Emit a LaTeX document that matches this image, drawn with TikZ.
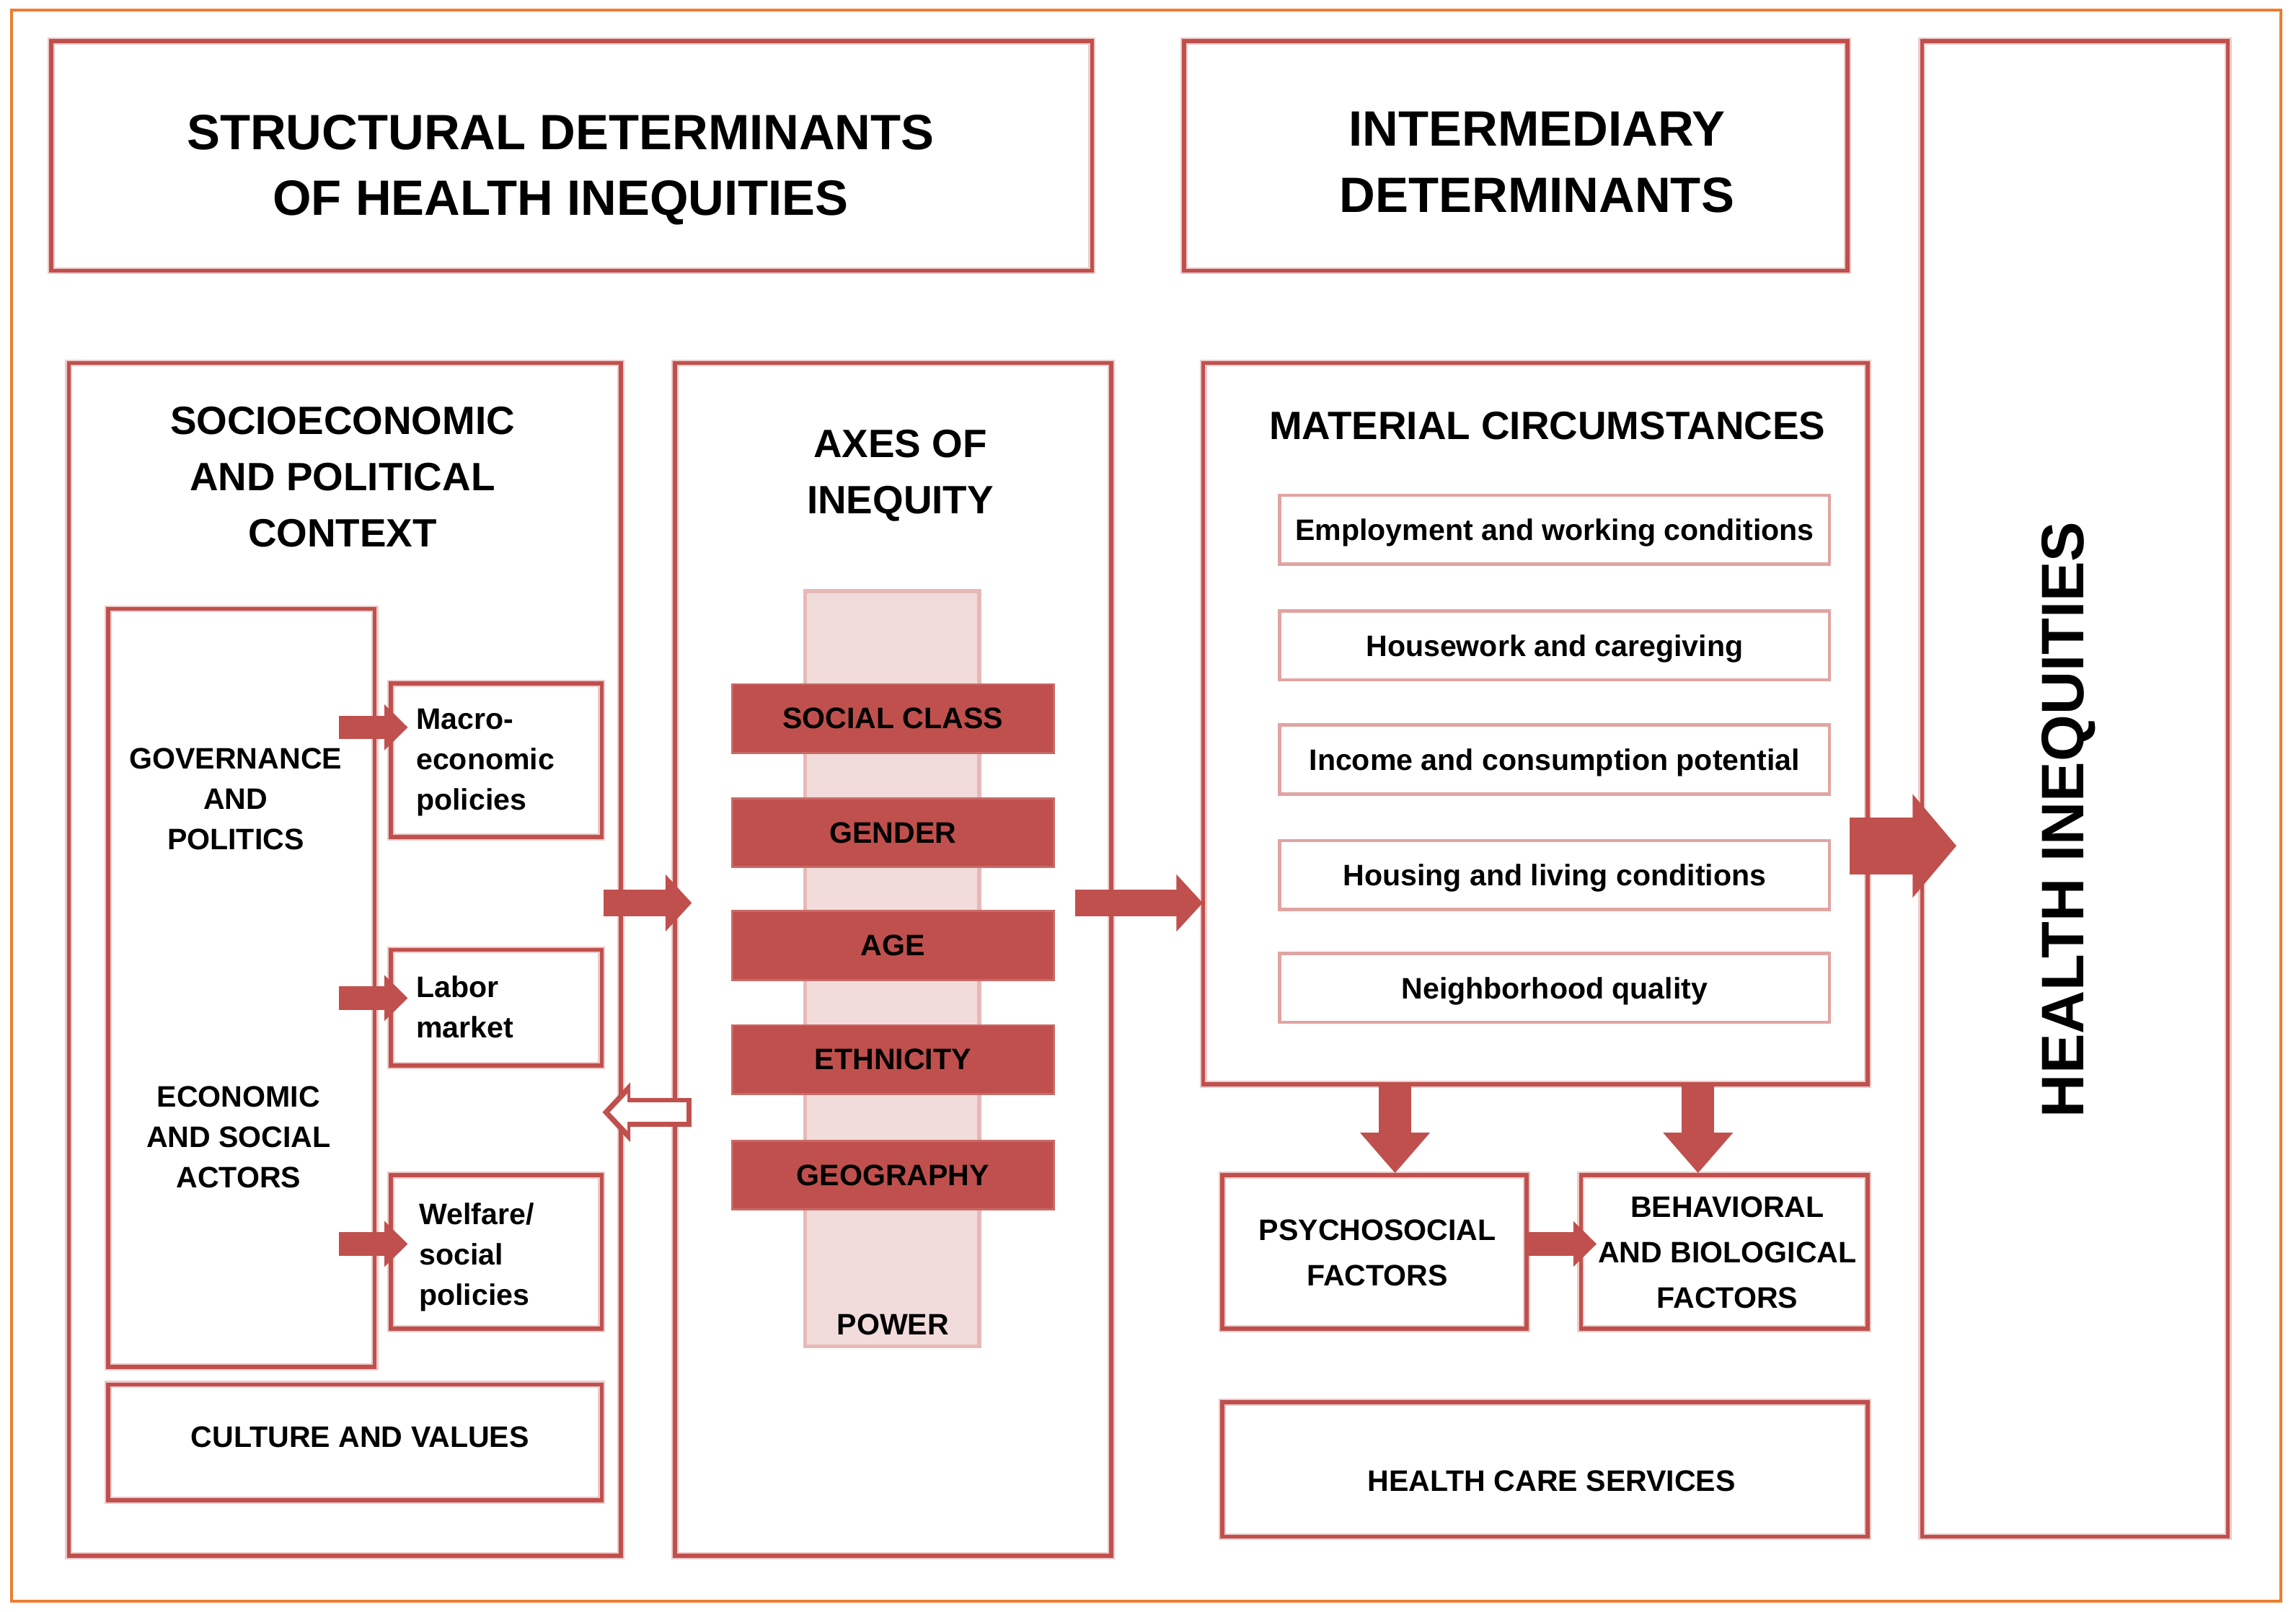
\documentclass[tikz,border=0pt]{standalone}
\usepackage{fontspec}
\setmainfont{Liberation Sans}
\usetikzlibrary{positioning}
\usetikzlibrary{fit}
\usetikzlibrary{arrows.meta}

\definecolor{boxred}{RGB}{192,80,77}
\definecolor{itemred}{RGB}{224,164,162}
\definecolor{powerpink}{RGB}{242,220,219}
\definecolor{powerline}{RGB}{230,185,184}
\definecolor{pageorange}{RGB}{237,125,49}

\tikzset{
    frame/.style={draw=boxred, line width=1.6pt, inner sep=0pt, preaction={draw=boxred!30, line width=2.8pt}},
    headtxt/.style={font=\bfseries\fontsize{19.6}{26}\selectfont, align=center},
    sectxt/.style={font=\bfseries\fontsize{15.6}{22.2}\selectfont, align=center},
    smalltxt/.style={font=\bfseries\fontsize{11.7}{15.9}\selectfont, align=center},
    bar/.style={smalltxt, fill=boxred, draw=boxred!85, line width=0.8pt, minimum width=127pt, minimum height=27.2pt, inner sep=0pt},
    item/.style={smalltxt, draw=itemred, line width=1.3pt, fill=white, minimum width=217pt, minimum height=27.2pt, inner sep=0pt},
    power/.style={fill=powerpink, draw=powerline, line width=1.5pt, inner sep=0pt},
    flow/.style={draw=boxred, line width=10.4pt, -{Triangle[width=22pt,length=10.4pt]}},
    smallflow/.style={draw=boxred, line width=9.2pt, -{Triangle[width=17.5pt,length=9.2pt]}},
    downflow/.style={draw=boxred, line width=12.7pt, -{Triangle[width=26.6pt,length=16pt]}},
    bigflow/.style={draw=boxred, line width=22.5pt, -{Triangle[width=40pt,length=17.3pt]}}
}

\begin{document}
\begin{tikzpicture}[x=0.020306cm,y=-0.020306cm]
    \useasboundingbox (0,0) rectangle (1568.5,1101.5);
    \node[fit={(8,7) (1558,1094)}, draw=pageorange, line width=1.2pt, inner sep=0pt] (page) {};

    % headers
    \node[frame, fit={(35,28) (746,185)}] (structural) {};
    \node[headtxt] (structuraltxt) at (383,116) {STRUCTURAL DETERMINANTS\\OF HEALTH INEQUITIES};
    \node[frame, fit={(809,28) (1262,185)}] (intermediary) {};
    \node[headtxt] (intermediarytxt) at (1050,111) {INTERMEDIARY\\DETERMINANTS};
    \node[frame, fit={(1313,28) (1522,1050)}] (health) {};
    \node[headtxt, font=\bfseries\fontsize{23.7}{28}\selectfont, rotate=90] (healthtxt) at (1413,560) {HEALTH INEQUITIES};

    % socioeconomic and political context
    \node[frame, fit={(47,248) (424,1063)}] (socio) {};
    \node[sectxt] (sociotxt) at (234,326) {SOCIOECONOMIC\\AND POLITICAL\\CONTEXT};
    \node[frame, fit={(74,416) (256,934)}] (gov) {};
    \node[smalltxt] (govtxt) at (161,546) {GOVERNANCE\\AND\\POLITICS};
    \node[smalltxt] (actorstxt) at (163,777) {ECONOMIC\\AND SOCIAL\\ACTORS};
    \node[frame, fit={(267,467) (411,572)}] (macro) {};
    \node[smalltxt, align=left, anchor=west, inner sep=0pt] (macrotxt) at (284,521) {Macro-\\economic\\policies};
    \node[frame, fit={(267,649) (411,728)}] (labor) {};
    \node[smalltxt, align=left, anchor=west, inner sep=0pt] (labortxt) at (284,688) {Labor\\market};
    \node[frame, fit={(267,803) (411,908)}] (welfare) {};
    \node[smalltxt, align=left, anchor=west, inner sep=0pt] (welfaretxt) at (286,859) {Welfare/\\social\\policies};
    \node[frame, fit={(74,946) (411,1025)}] (culture) {};
    \node[smalltxt] (culturetxt) at (246,982) {CULTURE AND VALUES};

    % axes of inequity
    \node[frame, fit={(461,248) (759,1063)}] (axes) {};
    \node[sectxt] (axestxt) at (615,325) {AXES OF\\INEQUITY};
    \node[power, fit={(550,404) (669,920)}] (power) {};
    \node[smalltxt] (powertxt) at (610,905) {POWER};
    \foreach \nm/\y/\lab in {class/491/SOCIAL CLASS, gender/569/GENDER, age/646/AGE, ethnicity/724/ETHNICITY, geography/803/GEOGRAPHY}
        \node[bar] (\nm) at (610,\y) {\lab};

    % material circumstances
    \node[frame, fit={(822,248) (1276,741)}] (material) {};
    \node[sectxt] (materialtxt) at (1057,291) {MATERIAL CIRCUMSTANCES};
    \foreach \nm/\y/\lab in {employment/362/Employment and working conditions, housework/441/Housework and caregiving, income/519/Income and consumption potential, housing/598/Housing and living conditions, neighborhood/675/Neighborhood quality}
        \node[item, text depth=0pt] (\nm) at (1062,\y) {\lab};

    \node[frame, fit={(835,803) (1043,908)}] (psycho) {};
    \node[smalltxt, font=\bfseries\fontsize{11.7}{17.9}\selectfont] (psychotxt) at (941,856) {PSYCHOSOCIAL\\FACTORS};
    \node[frame, fit={(1080,803) (1276,908)}] (behavioral) {};
    \node[smalltxt, font=\bfseries\fontsize{11.7}{17.9}\selectfont] (behavioraltxt) at (1180,856) {BEHAVIORAL\\AND BIOLOGICAL\\FACTORS};
    \node[frame, fit={(835,958) (1276,1050)}] (services) {};
    \node[smalltxt] (servicestxt) at (1060,1012) {HEALTH CARE SERVICES};

    % arrows
    \draw[smallflow, shorten <=-15pt, shorten >=-7.5pt] (gov.east |- 0,497) -- (macro.west |- 0,497);
    \draw[smallflow, shorten <=-15pt, shorten >=-7.5pt] (gov.east |- 0,682) -- (labor.west |- 0,682);
    \draw[smallflow, shorten <=-15pt, shorten >=-7.5pt] (gov.east |- 0,850) -- (welfare.west |- 0,850);
    \draw[flow, shorten <=-7.5pt, shorten >=-7.5pt] (socio.east |- 0,617) -- (axes.west |- 0,617);
    \draw[draw=boxred, line width=11.5pt, -{Triangle[width=23pt,length=11pt]}, shorten <=-7.5pt, shorten >=-8pt] (axes.west |- 0,760) -- (socio.east |- 0,760);
    \draw[draw=white, line width=7.6pt, -{Triangle[width=14.4pt,length=7pt]}, shorten <=-5.5pt, shorten >=-5.1pt] (axes.west |- 0,760) -- (socio.east |- 0,760);
    \draw[flow, shorten <=-15pt, shorten >=-0.6pt] (axes.east |- 0,617) -- (material.west |- 0,617);
    \draw[bigflow, shorten <=-8pt, shorten >=-14.4pt] (material.east |- 0,578) -- (health.west |- 0,578);
    \draw[downflow] (material.south -| 953,0) -- (psycho.north -| 953,0);
    \draw[downflow] (material.south -| 1160,0) -- (behavioral.north -| 1160,0);
    \draw[smallflow, shorten >=-7pt] (psycho.east |- 0,850) -- (behavioral.west |- 0,850);
\end{tikzpicture}
\end{document}
